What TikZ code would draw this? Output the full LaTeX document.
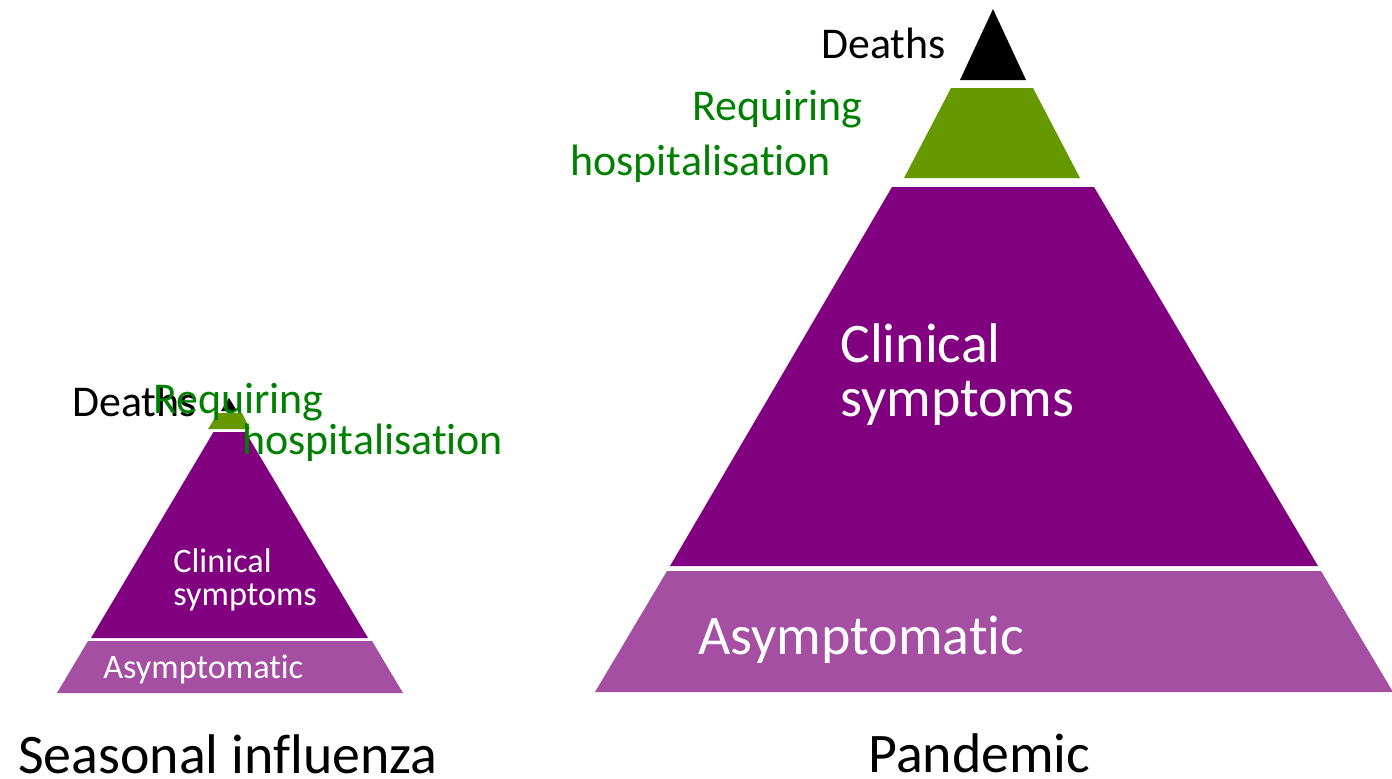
\documentclass[tikz,border=0pt]{standalone}
\usepackage{fontspec}
\setmainfont{Carlito}[Ligatures=NoCommon]
\usetikzlibrary{positioning}
\definecolor{deep}{HTML}{800080}
\definecolor{pale}{HTML}{A54FA3}
\definecolor{leaf}{HTML}{669900}
\definecolor{hosp}{HTML}{008000}

\begin{document}
\begin{tikzpicture}[x=0.02cm, y=-0.02cm,
  lbl/.style={inner sep=0pt, anchor=base west},
  big/.style={font=\fontsize{31.8}{31.8}\selectfont},
  mid/.style={font=\fontsize{25}{25}\selectfont},
  small/.style={font=\fontsize{19.5}{19.5}\selectfont}]
\useasboundingbox (0,0) rectangle (1392,778);
% seasonal influenza
\fill[pale] (57,693) -- (88,641) -- (372,641) -- (403,693) -- cycle;
\fill[deep] (91,638) -- (213.5,432) -- (245.5,432) -- (368,638) -- cycle;
\fill[leaf] (208,429) -- (218,413) -- (242,413) -- (250,429) -- cycle;
\fill[black] (221,411) -- (229,398) -- (237,411) -- cycle;
\node[lbl,small,white] (sasym) at (103,678) {Asymptomatic};
\node[lbl,small,white] (sclin) at (173,572) {Clinical};
\node[lbl,small,white] (ssymp) at (173,605) {symptoms};
\node[lbl,mid] (sdeath) at (72,416) {Deaths};
\node[lbl,mid,hosp] (sreq) at (153,413) {Requiring};
\node[lbl,mid,hosp] (shosp) at (242,454) {hospitalisation};
\node[lbl,big] (seasonal) at (18,773) {Seasonal influenza};
% pandemic
\fill[pale] (595,692) -- (667,571) -- (1321,571) -- (1393,692) -- cycle;
\fill[deep] (670,566) -- (892,187) -- (1094,187) -- (1318,566) -- cycle;
\fill[leaf] (904,178) -- (951,88) -- (1033,88) -- (1080,178) -- cycle;
\fill[black] (960,80) -- (993,9) -- (1026,80) -- cycle;
\node[lbl,big,white] (pasym) at (698,654) {Asymptomatic};
\node[lbl,big,white] (pclin) at (840,362) {Clinical};
\node[lbl,big,white] (psymp) at (840,416) {symptoms};
\node[lbl,mid,anchor=base east] (pdeath) at (946,58) {Deaths};
\node[lbl,mid,hosp] (preq) at (692,120) {Requiring};
\node[lbl,mid,hosp] (phosp) at (570,175) {hospitalisation};
\node[lbl,big] (pandemic) at (868,772) {Pandemic};
\end{tikzpicture}
\end{document}
